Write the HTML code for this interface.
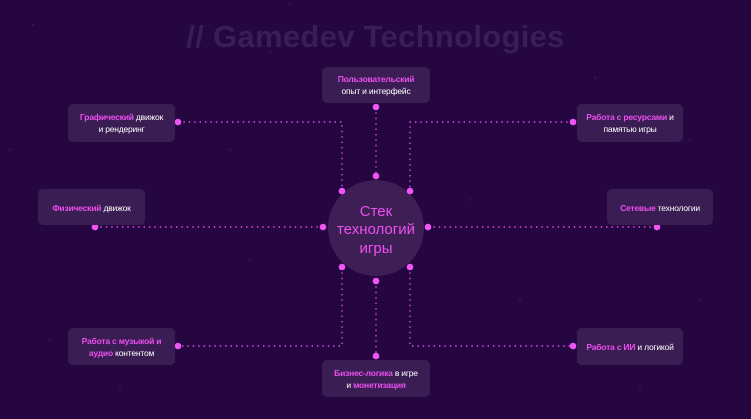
<!DOCTYPE html>
<html><head><meta charset="utf-8"><style>
html,body{margin:0;padding:0;width:751px;height:419px;overflow:hidden;background:#260641;font-family:"Liberation Sans","Noto Sans CJK SC",sans-serif}
.b{position:absolute;background:#3a1d52;border-radius:5px;color:#fff;font-size:8.5px;line-height:12px;text-align:center;display:flex;align-items:center;justify-content:center;flex-direction:column;letter-spacing:-0.2px}
.p{color:#ec4ff0;font-weight:bold}
.t{position:absolute;left:0;width:751px;top:19px;text-align:center;font-size:31px;font-weight:bold;color:#3b1d55;letter-spacing:0.3px}
</style></head><body>
<svg width="751" height="419" style="position:absolute;left:0;top:0">
<g fill="#6a4a80" opacity="0.6">
<circle cx="33" cy="25" r="0.7"/><circle cx="290" cy="4" r="0.7"/><circle cx="10" cy="150" r="0.7"/><circle cx="270" cy="52" r="0.7"/><circle cx="595" cy="78" r="0.7"/><circle cx="700" cy="300" r="0.7"/><circle cx="250" cy="260" r="0.7"/><circle cx="520" cy="300" r="0.7"/><circle cx="120" cy="390" r="0.7"/><circle cx="640" cy="390" r="0.7"/><circle cx="470" cy="200" r="0.7"/><circle cx="50" cy="340" r="0.7"/><circle cx="230" cy="150" r="0.7"/><circle cx="690" cy="140" r="0.7"/><circle cx="540" cy="40" r="0.7"/>
</g>
<g stroke="#e24fe6" stroke-width="1.4" stroke-dasharray="1.4 4" fill="none">
<polyline points="178,122 342,122 342,191"/>
<polyline points="573,122 410,122 410,191"/>
<line x1="376" y1="107" x2="376" y2="176"/>
<line x1="95" y1="227" x2="323" y2="227"/>
<line x1="428" y1="227" x2="657" y2="227"/>
<polyline points="342,267 342,346 178,346"/>
<polyline points="410,267 410,346 573,346"/>
<line x1="376" y1="281" x2="376" y2="356"/>
</g>
<circle cx="376" cy="228" r="48" fill="#3e1f55"/>
<g fill="#ec4ff0" font-family="Liberation Sans, sans-serif" font-size="15" text-anchor="middle">
<text x="376" y="216">Стек</text><text x="376" y="234">технологий</text><text x="376" y="253">игры</text>
</g>
<g fill="#ee55f2">
<circle cx="178" cy="122" r="3.3"/><circle cx="573" cy="122" r="3.3"/><circle cx="376" cy="107" r="3.3"/>
<circle cx="342" cy="191" r="3.3"/><circle cx="410" cy="191" r="3.3"/><circle cx="376" cy="176" r="3.3"/>
<circle cx="95" cy="227" r="3.3"/><circle cx="323" cy="227" r="3.3"/><circle cx="428" cy="227" r="3.3"/><circle cx="657" cy="227" r="3.3"/>
<circle cx="342" cy="267" r="3.3"/><circle cx="410" cy="267" r="3.3"/><circle cx="376" cy="281" r="3.3"/>
<circle cx="178" cy="346" r="3.3"/><circle cx="573" cy="346" r="3.3"/><circle cx="376" cy="356" r="3.3"/>
</g>
</svg>
<div class="t">// Gamedev Technologies</div>
<div class="b" style="left:322px;top:67px;width:108px;height:36px"><div><span class="p">Пользовательский</span></div><div>опыт и интерфейс</div></div>
<div class="b" style="left:68px;top:104px;width:107px;height:38px"><div><span class="p">Графический</span> движок</div><div>и рендеринг</div></div>
<div class="b" style="left:577px;top:104px;width:106px;height:38px"><div><span class="p">Работа с ресурсами</span> и</div><div>памятью игры</div></div>
<div class="b" style="left:38px;top:189px;width:107px;height:36px;justify-content:flex-start"><div style="margin-top:13px"><span class="p">Физический</span> движок</div></div>
<div class="b" style="left:607px;top:189px;width:106px;height:36px;justify-content:flex-start"><div style="margin-top:13px"><span class="p">Сетевые</span> технологии</div></div>
<div class="b" style="left:68px;top:328px;width:107px;height:37px"><div><span class="p">Работа с музыкой и</span></div><div><span class="p">аудио</span> контентом</div></div>
<div class="b" style="left:577px;top:328px;width:106px;height:37px"><div><span class="p">Работа с ИИ</span> и логикой</div></div>
<div class="b" style="left:322px;top:360px;width:108px;height:37px"><div><span class="p">Бизнес-логика</span> в игре</div><div>и <span class="p">монетизация</span></div></div>
</body></html>
